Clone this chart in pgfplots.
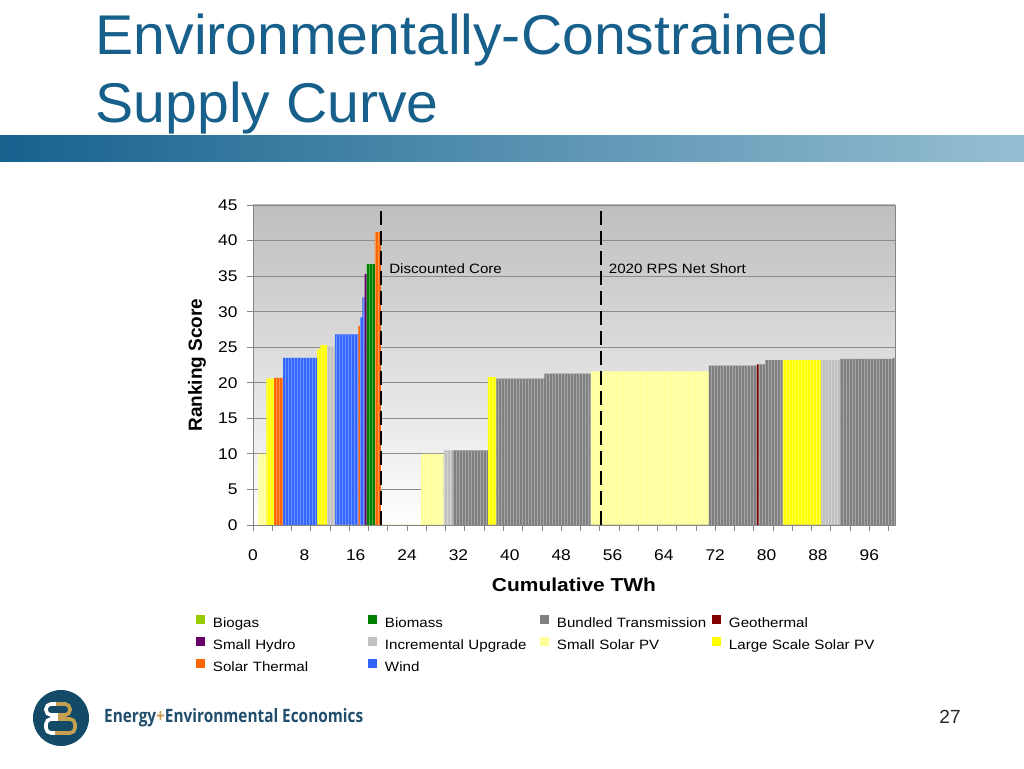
\documentclass[border=0pt]{standalone}
\usepackage{fontspec}
\usepackage{graphicx}
\usepackage{pgfplots}
\usetikzlibrary{patterns}
\pgfplotsset{compat=1.18}
\setmainfont{Liberation Sans}
\newfontfamily\chartfont{Liberation Sans}[FakeStretch=1.12]
\newfontfamily\titlefont{Liberation Sans}[FakeStretch=1.02]
\newfontfamily\logofont{Open Sans}

\definecolor{titleblue}{RGB}{23,96,140}
\definecolor{barleft}{RGB}{22,98,142}
\definecolor{barright}{RGB}{150,190,210}
\definecolor{logoblue}{RGB}{18,74,104}
\definecolor{logotext}{RGB}{32,78,108}
\definecolor{logogold}{RGB}{196,160,80}
\definecolor{axisgray}{RGB}{134,134,134}
\definecolor{gridgray}{RGB}{140,140,140}
\definecolor{bgtop}{RGB}{190,190,190}

\definecolor{cBiogas}{RGB}{153,204,0}
\definecolor{cBiomass}{RGB}{0,128,0}
\definecolor{cBundled}{RGB}{128,128,128}
\definecolor{cGeo}{RGB}{128,0,0}
\definecolor{cHydro}{RGB}{102,0,102}
\definecolor{cIncr}{RGB}{192,192,192}
\definecolor{cSmallPV}{RGB}{255,255,153}
\definecolor{cLargePV}{RGB}{255,255,0}
\definecolor{cSolarTh}{RGB}{255,102,0}
\definecolor{cWind}{RGB}{51,102,255}

\newcommand\ticklabfont{\chartfont\fontsize{15.5}{18}\selectfont}
\newcommand\legfont{\chartfont\fontsize{13.5}{16}\selectfont}

\begin{document}
\begin{tikzpicture}
\path[use as bounding box, fill=white] (0pt,0pt) rectangle (1024pt,768pt);

% title
\node[anchor=base west, inner sep=0pt, text=titleblue, font=\titlefont\fontsize{56}{60}\selectfont] at (95.5pt,713pt) {Environmentally-Constrained};
\node[anchor=base west, inner sep=0pt, text=titleblue, font=\titlefont\fontsize{56}{60}\selectfont] at (95.5pt,645.5pt) {Supply Curve};
\shade[left color=barleft, right color=barright] (0pt,606pt) rectangle (1024pt,632pt);

% logo
\fill[logoblue] (61pt,50pt) circle (28pt);
\draw[white, line width=3.6pt, rounded corners=5pt] (66pt,64pt) -- (46pt,64pt) -- (46pt,53pt) -- (66pt,53pt);
\draw[white, line width=3.6pt, rounded corners=5pt] (70pt,49pt) -- (46pt,49pt) -- (46pt,35pt) -- (70pt,35pt);
\draw[logogold, line width=3.6pt, rounded corners=5pt] (56pt,64pt) -- (70pt,64pt) -- (70pt,53pt) -- (58pt,53pt);
\draw[logogold, line width=3.6pt, rounded corners=5pt] (58pt,49pt) -- (75pt,49pt) -- (75pt,35pt) -- (55pt,35pt);
\node[anchor=west, inner sep=0pt, text=logotext] at (104pt,50pt) {\resizebox{259pt}{14pt}{\logofont\bfseries Energy{\color{logogold}+}Environmental Economics}};

% page number
\node[font=\fontsize{19}{22}\selectfont, text=black!85] at (950pt,51pt) {27};

\begin{axis}[
  at={(253pt,243pt)}, anchor=south west,
  scale only axis, width=642pt, height=320pt,
  xmin=0, xmax=100, ymin=0, ymax=45,
  xtick={0,3,...,99}, xticklabels={},
  extra x ticks={0,8,...,96},
  extra x tick style={major tick length=0pt},
  ytick={0,5,...,45},
  tick pos=left, tick align=outside,
  major tick length=6pt,
  tick style={axisgray, line width=0.8pt},
  ymajorgrids, major grid style={gridgray, line width=0.8pt},
  axis line style={axisgray, line width=0.8pt},
  axis background/.style={shade, top color=bgtop, bottom color=white},
  /pgf/number format/assume math mode=true,
  ticklabel style={font=\ticklabfont},
  xticklabel style={yshift=-21pt},
  yticklabel style={xshift=-6pt},
  xlabel={Cumulative TWh}, ylabel={Ranking Score},
  xlabel style={font=\chartfont\bfseries\fontsize{18.7}{22}\selectfont, at={(axis description cs:0.5,-0.1875)}, anchor=center},
  ylabel style={font=\bfseries\fontsize{19}{22}\selectfont, at={(axis description cs:-0.0872,0.5)}, anchor=center},
  legend columns=4,
  legend cell align=left,
  legend image code/.code={\path[fill=none, draw=none] (0pt,-4pt) rectangle (9pt,11pt); \fill[#1] (0pt,-1pt) rectangle (9pt,8pt);},
  legend style={at={(axis description cs:-0.0888,-0.272)}, anchor=north west, draw=none, fill=none, inner sep=0pt, outer sep=0pt,
     /tikz/every odd column/.append style={column sep=8pt},
     /tikz/every even column/.append style={column sep=0pt},
     row sep=5.5pt,
     nodes={inner sep=0pt, text width=155pt, align=left, font=\legfont}},
  bar/.style={forget plot, draw=none, fill=#1, postaction={pattern=vertical lines, pattern color=#1!70!white}},
]

% legend
\addlegendimage{fill=cBiogas, draw=none}\addlegendentry{Biogas}
\addlegendimage{fill=cBiomass, draw=none}\addlegendentry{Biomass}
\addlegendimage{fill=cBundled, draw=none}\addlegendentry{Bundled Transmission}
\addlegendimage{fill=cGeo, draw=none}\addlegendentry{Geothermal}
\addlegendimage{fill=cHydro, draw=none}\addlegendentry{Small Hydro}
\addlegendimage{fill=cIncr, draw=none}\addlegendentry{Incremental Upgrade}
\addlegendimage{fill=cSmallPV, draw=none}\addlegendentry{Small Solar PV}
\addlegendimage{fill=cLargePV, draw=none}\addlegendentry{Large Scale Solar PV}
\addlegendimage{fill=cSolarTh, draw=none}\addlegendentry{Solar Thermal}
\addlegendimage{fill=cWind, draw=none}\addlegendentry{Wind}

% Small Solar PV
\addplot[bar=cSmallPV] coordinates {
(0.8,0)(0.8,10)(2.1,10)(2.1,0)(26.2,0)(26.2,10)(29.7,10)(29.7,0)(52.6,0)(52.6,21.6)(71.0,21.6)(71.0,0)} \closedcycle;
% Large Scale Solar PV
\addplot[bar=cLargePV] coordinates {
(2.1,0)(2.1,20.6)(3.3,20.6)(3.3,0)(10.0,0)(10.0,24.7)(10.5,24.7)(10.5,25.3)(11.55,25.3)(11.55,0)(36.6,0)(36.6,20.8)(37.9,20.8)(37.9,0)(82.5,0)(82.5,23.2)(88.5,23.2)(88.5,0)} \closedcycle;
% Solar Thermal
\addplot[bar=cSolarTh] coordinates {
(3.3,0)(3.3,20.7)(4.7,20.7)(4.7,0)(16.4,0)(16.4,28)(16.7,28)(16.7,0)(19.0,0)(19.0,41.2)(19.9,41.2)(19.9,0)} \closedcycle;
% Wind
\addplot[bar=cWind] coordinates {
(4.7,0)(4.7,23.5)(10.0,23.5)(10.0,0)(12.8,0)(12.8,26.8)(16.4,26.8)(16.4,0)(16.7,0)(16.7,29.2)(17.05,29.2)(17.05,32)(17.4,32)(17.4,0)} \closedcycle;
% Incremental Upgrade
\addplot[bar=cIncr] coordinates {
(11.55,0)(11.55,25.1)(12.8,25.1)(12.8,0)(29.7,0)(29.7,10.5)(31.1,10.5)(31.1,0)(88.5,0)(88.5,23.2)(91.5,23.2)(91.5,0)} \closedcycle;
% Small Hydro
\addplot[bar=cHydro] coordinates {(17.4,0)(17.4,35.3)(17.75,35.3)(17.75,0)} \closedcycle;
% Biomass
\addplot[bar=cBiomass] coordinates {(17.75,0)(17.75,36.7)(19.0,36.7)(19.0,0)} \closedcycle;
% Bundled Transmission
\addplot[bar=cBundled] coordinates {
(31.1,0)(31.1,10.5)(36.6,10.5)(36.6,0)(37.9,0)(37.9,20.6)(45.4,20.6)(45.4,21.3)(52.6,21.3)(52.6,0)(71.0,0)(71.0,22.4)(78.5,22.4)(78.5,0)(78.75,0)(78.75,22.6)(79.8,22.6)(79.8,23.2)(82.5,23.2)(82.5,0)(91.5,0)(91.5,23.35)(99.7,23.35)(99.7,23.5)(100,23.5)(100,0)} \closedcycle;
% Geothermal
\addplot[forget plot, fill=cGeo, draw=none] coordinates {(78.5,0)(78.5,22.6)(78.75,22.6)(78.75,0)} \closedcycle;

% dashed markers
\addplot[forget plot, black, line width=2.5pt, dash pattern=on 14pt off 6pt] coordinates {(19.93,44.1) (19.93,0)};
\addplot[forget plot, black, line width=2.5pt, dash pattern=on 14pt off 6pt] coordinates {(54.17,44.1) (54.17,0)};

\node[anchor=west, inner sep=0pt, font=\legfont] at (axis cs:21.2,36.1) {Discounted Core};
\node[anchor=west, inner sep=0pt, font=\legfont] at (axis cs:55.4,36.1) {2020 RPS Net Short};
\end{axis}
\end{tikzpicture}
\end{document}
